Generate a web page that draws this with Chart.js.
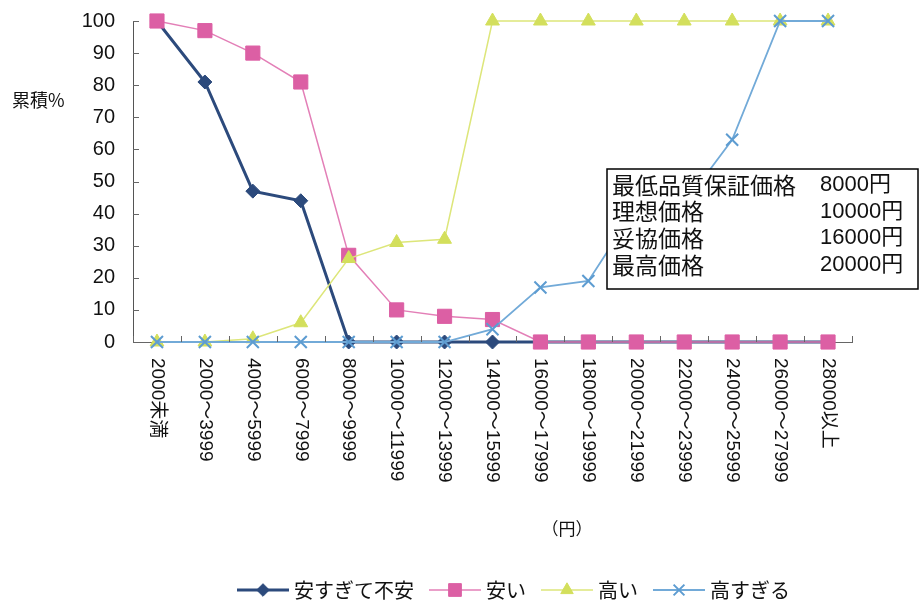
<!DOCTYPE html>
<html>
<head>
<meta charset="utf-8">
<script src="https://cdn.jsdelivr.net/npm/chart.js@4.4.1/dist/chart.umd.min.js"></script>
<style>
html,body{margin:0;padding:0;background:#fff;}
#wrap{width:920px;height:608px;position:relative;}
</style>
</head>
<body>
<div id="wrap"><canvas id="c" width="920" height="608"></canvas></div>
<script>
// ---- data ----
const categories = ['2000未満','2000～3999','4000～5999','6000～7999','8000～9999','10000～11999','12000～13999','14000～15999','16000～17999','18000～19999','20000～21999','22000～23999','24000～25999','26000～27999','28000以上'];
const seriesNames = ['安すぎて不安','安い','高い','高すぎる'];
const tooCheap     = [100, 81, 47, 44, 0, 0, 0, 0, 0, 0, 0, 0, 0, 0, 0];
const cheap        = [100, 97, 90, 81, 27, 10, 8, 7, 0, 0, 0, 0, 0, 0, 0];
const expensive    = [0, 0, 1, 6, 26, 31, 32, 100, 100, 100, 100, 100, 100, 100, 100];
const tooExpensive = [0, 0, 0, 0, 0, 0, 0, 4, 17, 19, 42, 43, 63, 100, 100];
const yAxisTitle = '累積%';
const xAxisTitle = '（円）';
const boxLabels = ['最低品質保証価格','理想価格','妥協価格','最高価格'];
const boxValues = ['8000円','10000円','16000円','20000円'];

const JP = '"Noto Sans CJK JP"';
const LAT = '"Liberation Sans", "Noto Sans CJK JP"';

function drawMarker(ctx, style, x, y, r, fill, stroke, lw) {
  ctx.save();
  ctx.fillStyle = fill; ctx.strokeStyle = stroke; ctx.lineWidth = lw;
  ctx.beginPath();
  if (style === 'rectRot') {
    ctx.moveTo(x, y - r); ctx.lineTo(x + r, y); ctx.lineTo(x, y + r); ctx.lineTo(x - r, y); ctx.closePath();
    ctx.fill(); ctx.stroke();
  } else if (style === 'rect') {
    const s = r * Math.SQRT1_2;
    ctx.rect(x - s, y - s, 2 * s, 2 * s); ctx.fill(); ctx.stroke();
  } else if (style === 'triangle') {
    ctx.moveTo(x, y - r);
    ctx.lineTo(x + r * Math.sin(Math.PI * 2 / 3), y - r * Math.cos(Math.PI * 2 / 3));
    ctx.lineTo(x - r * Math.sin(Math.PI * 2 / 3), y - r * Math.cos(Math.PI * 2 / 3));
    ctx.closePath(); ctx.fill(); ctx.stroke();
  } else if (style === 'crossRot') {
    const s = r * Math.SQRT1_2;
    ctx.moveTo(x - s, y - s); ctx.lineTo(x + s, y + s);
    ctx.moveTo(x - s, y + s); ctx.lineTo(x + s, y - s);
    ctx.stroke();
  }
  ctx.restore();
}

const decor = {
  id: 'decor',
  afterDraw(chart) {
    const ctx = chart.ctx;
    const xs = chart.scales.x, ys = chart.scales.y;
    const area = chart.chartArea;
    ctx.save();
    // inner tick marks
    ctx.strokeStyle = '#666'; ctx.lineWidth = 1;
    ctx.beginPath();
    ys.ticks.forEach(t => {
      const y = Math.round(ys.getPixelForValue(t.value)) + 0.5;
      ctx.moveTo(area.left, y); ctx.lineTo(area.left + 6, y);
    });
    const step = xs.getPixelForValue(1) - xs.getPixelForValue(0);
    for (let i = 0; i <= categories.length; i++) {
      const x = Math.round(xs.getPixelForValue(i) - step / 2) + 0.5;
      ctx.moveTo(x, area.bottom); ctx.lineTo(x, area.bottom - 6);
    }
    ctx.stroke();

    // x labels, rotated clockwise
    ctx.fillStyle = '#111';
    ctx.font = '19px ' + LAT;
    ctx.textAlign = 'left'; ctx.textBaseline = 'middle';
    categories.forEach((lab, i) => {
      const x = xs.getPixelForValue(i);
      ctx.save();
      ctx.translate(x, area.bottom + 16);
      ctx.rotate(Math.PI / 2);
      ctx.fillText(lab, 0, 0);
      ctx.restore();
    });

    // axis titles
    ctx.font = '18px ' + JP;
    ctx.textAlign = 'left';
    ctx.fillText(yAxisTitle, 12, 100);
    ctx.font = '17px ' + JP;
    ctx.textAlign = 'center';
    ctx.fillText(xAxisTitle, 567, 529);

    // annotation box
    const bx = 607, by = 169, bw = 311, bh = 120;
    ctx.fillStyle = '#fff';
    ctx.fillRect(bx, by, bw, bh);
    ctx.strokeStyle = '#000'; ctx.lineWidth = 1.5;
    ctx.strokeRect(bx, by, bw, bh);
    ctx.fillStyle = '#111';
    ctx.textAlign = 'left'; ctx.textBaseline = 'middle';
    boxLabels.forEach((lab, i) => {
      const y = by + 16 + i * 26.7;
      ctx.font = '23px ' + JP;
      ctx.fillText(lab, bx + 5, y);
      ctx.font = '22px ' + LAT;
      ctx.fillText(boxValues[i], 820, y);
    });

    // legend
    let lx = 237;
    const ly = 590;
    ctx.font = '20px ' + JP;
    chart.data.datasets.forEach(ds => {
      ctx.strokeStyle = ds.borderColor; ctx.lineWidth = ds.borderWidth;
      ctx.beginPath(); ctx.moveTo(lx, ly); ctx.lineTo(lx + 52, ly); ctx.stroke();
      drawMarker(ctx, ds.pointStyle, lx + 26, ly, ds.pointRadius * 0.9, ds.pointBackgroundColor, ds.pointBorderColor, ds.pointBorderWidth);
      ctx.fillStyle = '#111';
      ctx.textAlign = 'left'; ctx.textBaseline = 'middle';
      ctx.fillText(ds.label, lx + 57, ly);
      lx += 57 + ctx.measureText(ds.label).width + 15;
    });
    ctx.restore();
  }
};

new Chart(document.getElementById('c'), {
  type: 'line',
  data: {
    labels: categories,
    datasets: [
      { label: seriesNames[0], data: tooCheap, borderColor: '#2c4a7c', borderWidth: 3,
        pointStyle: 'rectRot', pointRadius: 7, pointBackgroundColor: '#2c4a7c', pointBorderColor: '#2c4a7c', pointBorderWidth: 1,
        tension: 0, clip: false, order: 4 },
      { label: seriesNames[1], data: cheap, borderColor: '#e37fb7', borderWidth: 1.5,
        pointStyle: 'rect', pointRadius: 10, pointBackgroundColor: '#dc5fa4', pointBorderColor: '#dc5fa4', pointBorderWidth: 1,
        tension: 0, clip: false, order: 3 },
      { label: seriesNames[2], data: expensive, borderColor: '#dde67a', borderWidth: 1.5,
        pointStyle: 'triangle', pointRadius: 8, pointBackgroundColor: '#d3df5c', pointBorderColor: '#d3df5c', pointBorderWidth: 1,
        tension: 0, clip: false, order: 2 },
      { label: seriesNames[3], data: tooExpensive, borderColor: '#72aad8', borderWidth: 1.8,
        pointStyle: 'crossRot', pointRadius: 8.5, pointBackgroundColor: '#5d9cd1', pointBorderColor: '#5d9cd1', pointBorderWidth: 2,
        tension: 0, clip: false, order: 1 }
    ]
  },
  options: {
    responsive: false,
    animation: false,
    events: [],
    devicePixelRatio: 1,
    layout: { padding: { top: 21, right: 68, bottom: 0, left: 0 } },
    plugins: { legend: { display: false }, tooltip: { enabled: false } },
    scales: {
      x: {
        type: 'category', offset: true,
        ticks: { display: false },
        grid: { display: true, drawOnChartArea: false, drawTicks: false, offset: true },
        border: { display: true, color: '#666', width: 1 },
        afterFit(s) { s.height = 266; s.paddingLeft = 0; s.paddingRight = 0; }
      },
      y: {
        min: 0, max: 100,
        ticks: { stepSize: 10, color: '#111', padding: 18, font: { family: '"Liberation Sans"', size: 20 } },
        grid: { display: true, drawOnChartArea: false, drawTicks: false },
        border: { display: true, color: '#555', width: 1 },
        afterFit(s) { s.width = 133; s.paddingTop = 0; s.paddingBottom = 0; }
      }
    }
  },
  plugins: [decor]
});
</script>
</body>
</html>
